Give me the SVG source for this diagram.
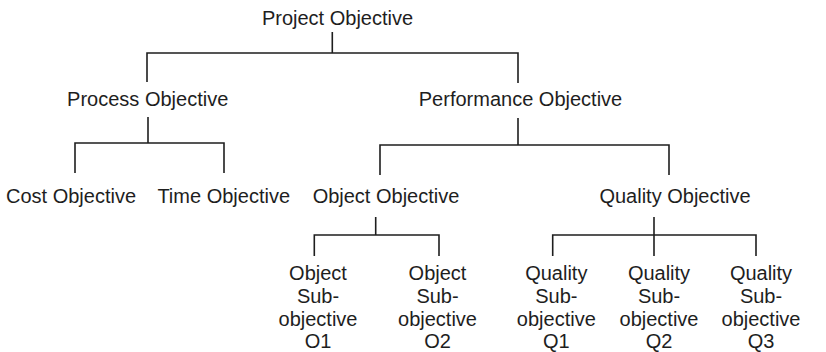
<svg xmlns="http://www.w3.org/2000/svg" width="826" height="352" viewBox="0 0 826 352">
  <style>
    .lbl { font-family: "Liberation Sans", Arial, Helvetica, sans-serif; font-size: 20px; fill: #1e1e1e; text-anchor: middle; }
    .edge { fill: none; stroke: #1e1e1e; stroke-width: 1.6; }
  </style>
  <rect width="826" height="352" fill="#ffffff"/>

  <g id="connectors">
    <!-- Project -> Process / Performance -->
    <path class="edge" d="M332.3 32 V53 M147 82 V53 H518 V83"/>
    <!-- Process -> Cost / Time -->
    <path class="edge" d="M148 117 V143 M75 173 V143 H224 V173"/>
    <!-- Performance -> Object / Quality -->
    <path class="edge" d="M518 118 V145 M380 175 V145 H669 V175"/>
    <!-- Object -> O1 / O2 -->
    <path class="edge" d="M375.7 217 V235 M314.3 256 V235 H439 V256"/>
    <!-- Quality -> Q1 / Q2 / Q3 -->
    <path class="edge" d="M654 217 V256 M552.7 256 V235 H756 V256"/>
  </g>

  <g id="project"><text class="lbl" x="337.5" y="25">Project Objective</text></g>
  <g id="process"><text class="lbl" x="147.7" y="106">Process Objective</text></g>
  <g id="performance"><text class="lbl" x="520.5" y="106">Performance Objective</text></g>
  <g id="cost"><text class="lbl" x="71" y="203">Cost Objective</text></g>
  <g id="time"><text class="lbl" x="223.7" y="203">Time Objective</text></g>
  <g id="object"><text class="lbl" x="386" y="203">Object Objective</text></g>
  <g id="quality"><text class="lbl" x="675" y="203">Quality Objective</text></g>

  <g id="o1">
    <text class="lbl" x="318" y="280">Object</text>
    <text class="lbl" x="318" y="303">Sub-</text>
    <text class="lbl" x="318" y="325.5">objective</text>
    <text class="lbl" x="318" y="348">O1</text>
  </g>
  <g id="o2">
    <text class="lbl" x="437.5" y="280">Object</text>
    <text class="lbl" x="437.5" y="303">Sub-</text>
    <text class="lbl" x="437.5" y="325.5">objective</text>
    <text class="lbl" x="437.5" y="348">O2</text>
  </g>
  <g id="q1">
    <text class="lbl" x="556.3" y="280">Quality</text>
    <text class="lbl" x="556.3" y="303">Sub-</text>
    <text class="lbl" x="556.3" y="325.5">objective</text>
    <text class="lbl" x="556.3" y="348">Q1</text>
  </g>
  <g id="q2">
    <text class="lbl" x="659" y="280">Quality</text>
    <text class="lbl" x="659" y="303">Sub-</text>
    <text class="lbl" x="659" y="325.5">objective</text>
    <text class="lbl" x="659" y="348">Q2</text>
  </g>
  <g id="q3">
    <text class="lbl" x="761" y="280">Quality</text>
    <text class="lbl" x="761" y="303">Sub-</text>
    <text class="lbl" x="761" y="325.5">objective</text>
    <text class="lbl" x="761" y="348">Q3</text>
  </g>
</svg>
